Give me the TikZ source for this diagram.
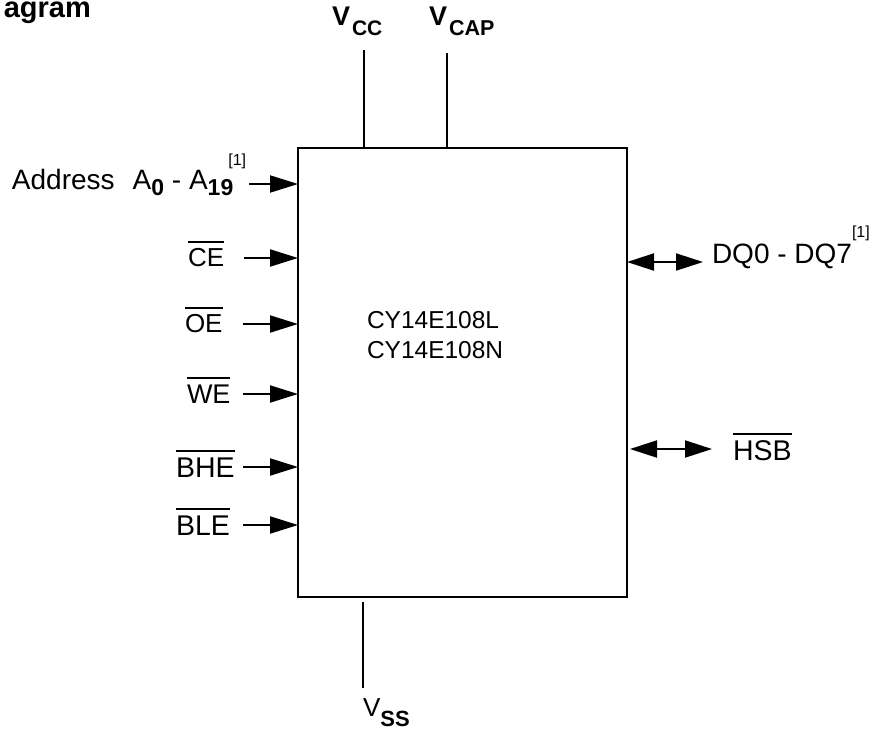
\documentclass[tikz,border=0pt]{standalone}
\usepackage{fontspec}
\setmainfont{Liberation Sans}
\usetikzlibrary{arrows.meta}
\newcommand\fs[1]{\fontsize{#1}{#1}\selectfont}
\newsavebox\ovlbox
\newcommand\ovl[1]{\sbox\ovlbox{#1}\rlap{\raisebox{\dimexpr\ht\ovlbox+5pt\relax}{\rule{\wd\ovlbox}{2.2pt}}}\usebox\ovlbox}
\begin{document}
\begin{tikzpicture}[x=1pt,y=-1pt,
  lbl/.style={inner sep=0pt, outer sep=0pt, anchor=base west},
  wire/.style={line width=2pt},
  sig/.style={wire, -{Triangle[length=28pt,width=17pt]}},
  bidi/.style={wire, {Triangle[length=27pt,width=17pt]}-{Triangle[length=27pt,width=17pt]}},
  chipbox/.style={draw, line width=2.2pt, minimum width=329pt, minimum height=449pt, anchor=north west, inner sep=0pt, outer sep=0pt}]
\useasboundingbox (0,0) rectangle (875,729);

% chip
\node[chipbox] (chip) at (298,148) {};
\node[lbl, font=\fs{24.5}] (pn1) at (367,328) {CY14E108L};
\node[lbl, font=\fs{24.5}] (pn2) at (367,358) {CY14E108N};

% title fragment
\node[inner sep=0pt, anchor=base east, font=\fs{29}\bfseries] (title) at (91,17) {agram};

% supply pins
\node[lbl, font=\fs{27}\bfseries] (vcc) at (332,25) {V\hspace{2pt}\raisebox{-10pt}{\fs{21}CC}};
\node[lbl, font=\fs{27}\bfseries] (vcap) at (429,25) {V\hspace{2pt}\raisebox{-10pt}{\fs{21.5}CAP}};
\node[lbl, font=\fs{26}] (vss) at (363,716) {V\raisebox{-10pt}{\fs{22}\bfseries SS}};
\coordinate (vccT) at (363.5,50);
\coordinate (vcapT) at (446.7,53);
\coordinate (vssT) at (363.3,602);
\coordinate (vssB) at (363.3,688);
\draw[wire] (vccT) -- (vccT |- chip.north);
\draw[wire] (vcapT) -- (vcapT |- chip.north);
\draw[wire] (vssT) -- (vssB);

% address
\node[lbl, font=\fs{28}] (addr) at (12,189) {Address\hspace{18pt}A\raisebox{-6pt}{\fs{23}\bfseries 0} - A\raisebox{-6pt}{\fs{23}\bfseries 19}\hspace{-5pt}\raisebox{23.5pt}{\fs{16}[1]}};
\coordinate (aS) at (249,184);
\draw[sig] (aS) -- (aS -| chip.west);

% control inputs
\node[lbl, font=\fs{26}] (ce) at (188,266) {\ovl{CE}};
\node[lbl, font=\fs{26}] (oe) at (185,332) {\ovl{OE}};
\node[lbl, font=\fs{27}] (we) at (187,403) {\ovl{WE}};
\node[lbl, font=\fs{28.5}] (bhe) at (176,477) {\ovl{BHE}};
\node[lbl, font=\fs{28.5}] (ble) at (176,535) {\ovl{BLE}};
\coordinate (ceS) at (244,258);
\coordinate (oeS) at (243,324);
\coordinate (weS) at (243,394);
\coordinate (bheS) at (243,467);
\coordinate (bleS) at (243,525);
\draw[sig] (ceS) -- (ceS -| chip.west);
\draw[sig] (oeS) -- (oeS -| chip.west);
\draw[sig] (weS) -- (weS -| chip.west);
\draw[sig] (bheS) -- (bheS -| chip.west);
\draw[sig] (bleS) -- (bleS -| chip.west);

% bidirectional pins
\node[lbl, font=\fs{28}] (dq) at (712,263) {DQ0 - DQ7\raisebox{26pt}{\fs{16}[1]}};
\node[lbl, font=\fs{28.5}] (hsb) at (733,460) {\ovl{HSB}};
\coordinate (dqE) at (703,262);
\coordinate (hsbL) at (630,449);
\coordinate (hsbE) at (712,449);
\draw[bidi] (dqE -| chip.east) -- (dqE);
\draw[bidi] (hsbL) -- (hsbE);
\end{tikzpicture}
\end{document}
